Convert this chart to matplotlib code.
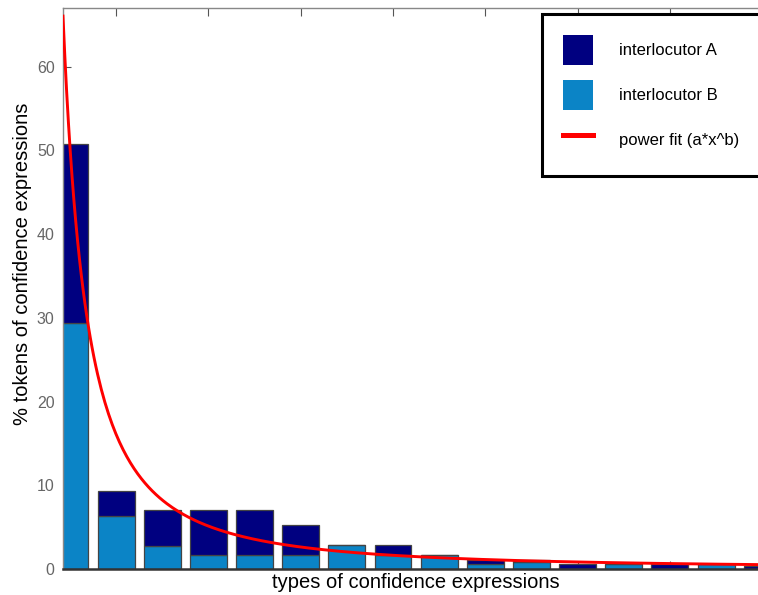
import numpy as np
import matplotlib
matplotlib.use("Agg")
import matplotlib.pyplot as plt
from matplotlib.patches import Patch
from matplotlib.lines import Line2D

plt.rcParams['font.family'] = ['Liberation Sans', 'DejaVu Sans']

# share of tokens per expression type, split by speaker
types = np.arange(1, 17)
interlocutor_b = [29.4, 6.3, 2.75, 1.65, 1.65, 1.65, 2.83, 1.7, 1.7, 0.57, 0.85, 0.0, 0.56, 0.0, 0.56, 0.0]
interlocutor_a = [21.3, 3.0, 4.3, 5.4, 5.4, 3.6, 0.0, 1.13, 0.0, 0.56, 0.28, 0.56, 0.0, 0.56, 0.0, 0.35]

# power fit y = a * x^b
fit_a = 50.5
fit_b = -1.65

dark = '#000080'
light = '#0b84c6'

fig = plt.figure(figsize=(7.58, 5.95), dpi=100)
ax = fig.add_axes([0.0831, 0.0437, 0.959, 0.9429])

ax.bar(types, interlocutor_b, width=0.8, color=light, edgecolor='#444444', linewidth=0.9)
ax.bar(types, interlocutor_a, width=0.8, bottom=interlocutor_b, color=dark,
       edgecolor='#444444', linewidth=0.9)

xs = np.linspace(0.85, 16.6, 400)
ax.plot(xs, fit_a * xs ** fit_b, color='#ff0000', lw=2.1, zorder=3)

ax.set_xlim(0.85, 16.6)
ax.set_ylim(0, 67)
ax.set_xticks(np.arange(2, 17, 2))
ax.set_yticks(np.arange(0, 61, 10))
ax.set_axisbelow(True)
ax.tick_params(axis='x', top=True, bottom=True, direction='in', length=6,
               color='#555555', labelbottom=False)
ax.tick_params(axis='y', direction='in', length=6, color='#555555',
               labelcolor='#666666', labelsize=11.5, pad=6)

for side in ('top', 'left', 'right'):
    ax.spines[side].set_color('#888888')
    ax.spines[side].set_linewidth(1.0)
ax.spines['bottom'].set_color('#333333')
ax.spines['bottom'].set_linewidth(1.8)

ax.set_xlabel('types of confidence expressions', fontsize=14.5)
ax.xaxis.set_label_coords(0.486, -0.008)
ax.set_ylabel('% tokens of confidence expressions', fontsize=14.5)
ax.yaxis.set_label_coords(-0.043, 0.544)

handles = [Patch(facecolor=dark, edgecolor='none'),
           Patch(facecolor=light, edgecolor='none'),
           Line2D([], [], color='#ff0000', lw=3.6)]
labels = ['interlocutor A', 'interlocutor B', 'power fit (a*x^b)']
leg = ax.legend(handles, labels, loc='upper left',
                bbox_to_anchor=(542 / 758, 1 - 14 / 595), bbox_transform=fig.transFigure,
                borderaxespad=0, fontsize=12, handlelength=1.8, handleheight=2.4,
                handletextpad=1.56, labelspacing=0.9, borderpad=1.25,
                fancybox=False, framealpha=1)
leg.get_frame().set_edgecolor('black')
leg.get_frame().set_linewidth(2.2)

fig.savefig('out.png', dpi=100)
